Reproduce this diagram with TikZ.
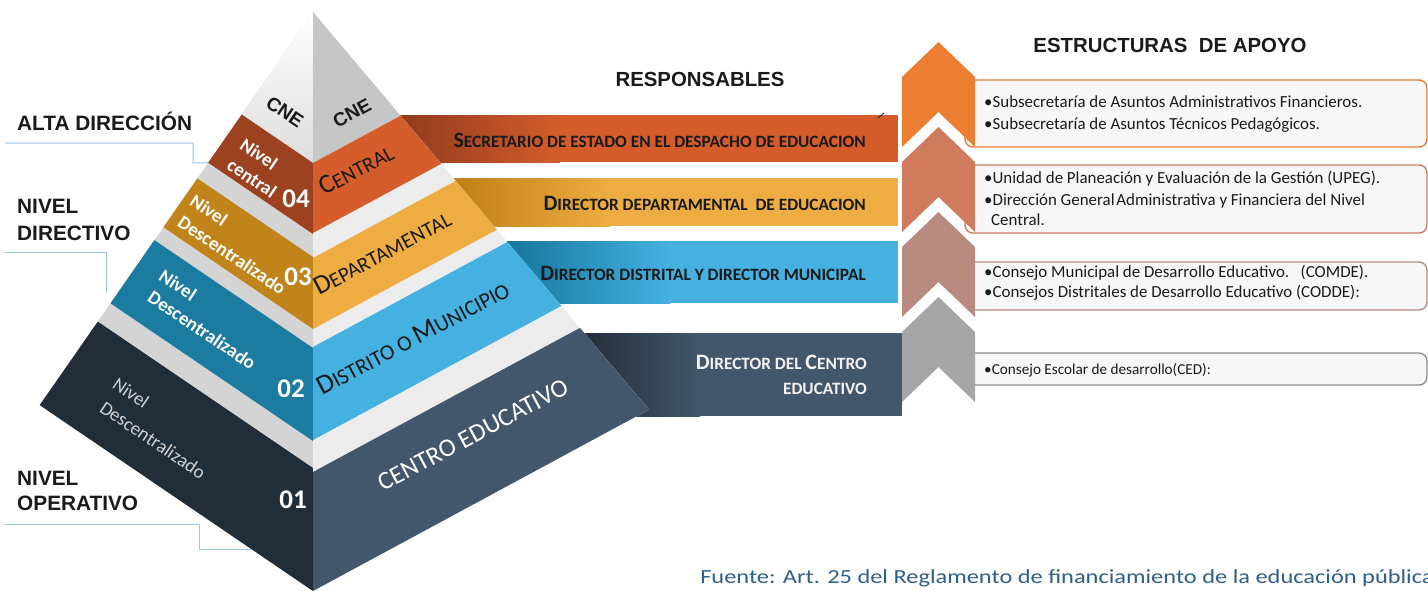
\documentclass[tikz,border=0pt]{standalone}
\usepackage{fontspec}
\setmainfont{Carlito}
\newfontfamily\ars{Liberation Sans}
\newcommand\Fs[1]{\fontsize{#1}{#1}\selectfont}
\definecolor{cBrownL}{HTML}{9C4220}
\definecolor{cOrangeR}{HTML}{D45D2B}
\definecolor{cBa}{HTML}{D45C2B}
\definecolor{cBad}{HTML}{8E3A1C}
\definecolor{cGoldL}{HTML}{C0841A}
\definecolor{cGoldR}{HTML}{EEAD42}
\definecolor{cBbd}{HTML}{BE7E14}
\definecolor{cTealL}{HTML}{1B7BA1}
\definecolor{cBlueR}{HTML}{44B1E1}
\definecolor{cBcd}{HTML}{16759B}
\definecolor{cDarkL}{HTML}{222D3A}
\definecolor{cSlateR}{HTML}{42576B}
\definecolor{cBdd}{HTML}{242E3A}
\definecolor{cCneL}{HTML}{F0F0F0}
\definecolor{cCneR}{HTML}{C6C6C6}
\definecolor{cGapL}{HTML}{D4D4D4}
\definecolor{cGapR}{HTML}{ECECEC}
\definecolor{cChA}{HTML}{ED7D31}
\definecolor{cChB}{HTML}{D07B5D}
\definecolor{cChC}{HTML}{B98A80}
\definecolor{cChD}{HTML}{A6A6A6}
\definecolor{cLine}{HTML}{9DC3E6}
\definecolor{cFoot}{HTML}{2E5E8C}
\definecolor{cTxt}{HTML}{1A1A1A}
\begin{document}
\begin{tikzpicture}[x=1pt,y=-1pt,
  hdr/.style={font=\ars\bfseries\Fs{20.8}, text=cTxt, inner sep=0pt, anchor=base west},
  title/.style={font=\ars\bfseries\Fs{20.4}, text=cTxt, inner sep=0pt, anchor=base},
  conn/.style={draw=cLine, line width=1pt},
  cne/.style={font=\ars\bfseries\Fs{19}, text=cTxt, inner sep=0pt},
  lefttxt/.style={font=\bfseries\Fs{19}, text=white, inner sep=0pt},
  lefttxtlight/.style={font=\Fs{19}, text=white!82!black, inner sep=0pt},
  num/.style={font=\bfseries\Fs{27}, text=white, inner sep=0pt},
  righttxt/.style={font=\Fs{21}, text=cTxt, inner sep=0pt, rotate=28, anchor=base west},
  bandtxt/.style={font=\bfseries\Fs{17.3}, text=cTxt, inner sep=0pt, anchor=base east},
  boxtxt/.style={font=\Fs{16.9}, text=cTxt, inner sep=0pt, anchor=base west},
  boxstyle/.style={draw=#1, line width=1.4pt, fill=white!97!black, rounded corners=8pt}
]
\useasboundingbox (0,0) rectangle (1428,590);

% ---------- bands (responsables) behind pyramid ----------
\fill[cBa] (380,115) rectangle (898,162);
\shade[left color=cBad, right color=cBa] (395,115) rectangle (560,162);
\fill[cGoldR] (440,178) rectangle (898,226);
\shade[left color=cBbd, right color=cGoldR] (450,178) rectangle (610,226);
\fill[cBlueR] (500,241) rectangle (898,303);
\shade[left color=cBcd, right color=cBlueR] (505,241) rectangle (670,303);
\fill[cSlateR] (575,333) rectangle (902,416);
\shade[left color=cBdd, right color=cSlateR] (585,333) rectangle (700,416);
\draw[cTxt, line width=0.8pt] (878,118) -- (884,113);

% ---------- pyramid coordinates ----------
\coordinate (A) at (313,12);
\coordinate (L1) at (241.7,114.5); \coordinate (L2) at (208.2,162.7);
\coordinate (L3) at (197.4,178.4); \coordinate (L4) at (163.4,227.2);
\coordinate (L5) at (154.4,240.1); \coordinate (L6) at (110.5,303.3);
\coordinate (L7) at (97.8,321.6);  \coordinate (L8) at (39.7,405.1);
\coordinate (C1) at (313,163); \coordinate (C2) at (313,234);
\coordinate (C3) at (313,257); \coordinate (C4) at (313,329);
\coordinate (C5) at (313,348); \coordinate (C6) at (313,441);
\coordinate (C7) at (313,468); \coordinate (C8) at (313,591);
\coordinate (D2) at (313,233); \coordinate (D3) at (313,258);
\coordinate (D5) at (313,347); \coordinate (D6) at (313,440);
\coordinate (D7) at (313,472);
\coordinate (R1) at (400.6,115.7); \coordinate (R2) at (441.2,163.8);
\coordinate (R3) at (455.7,180.9); \coordinate (R4) at (496.9,229.7);
\coordinate (R5) at (507.4,242.0); \coordinate (R6) at (561.3,305.9);
\coordinate (R7) at (579.9,327.9); \coordinate (R8) at (648.9,409.6);

% left face
\fill[cGapL] (A) -- (L8) -- (C8) -- cycle;
\shade[top color=white, bottom color=cCneL!92!black] (A) -- (L1) -- (C1) -- cycle;
\fill[cBrownL] (L1) -- (L2) -- (C2) -- (C1) -- cycle;
\fill[cGoldL] (L3) -- (L4) -- (C4) -- (C3) -- cycle;
\fill[cTealL] (L5) -- (L6) -- (C6) -- (C5) -- cycle;
\fill[cDarkL] (L7) -- (L8) -- (C8) -- (C7) -- cycle;
% right face
\fill[cGapR] (A) -- (C8) -- (R8) -- cycle;
\fill[cCneR] (A) -- (C1) -- (R1) -- cycle;
\fill[cOrangeR] (C1) -- (D2) -- (R2) -- (R1) -- cycle;
\fill[cGoldR] (D3) -- (C4) -- (R4) -- (R3) -- cycle;
\fill[cBlueR] (D5) -- (D6) -- (R6) -- (R5) -- cycle;
\fill[cSlateR] (D7) -- (C8) -- (R8) -- (R7) -- cycle;

% pyramid texts
\node[cne, rotate=-34] (cneL) at (285,112) {CNE};
\node[cne, rotate=28] (cneR) at (352,113) {CNE};
\node[lefttxt, rotate=-34] (n4a) at (259,154) {Nivel};
\node[lefttxt, rotate=-34] (n4b) at (252,178) {central};
\node[num] (n4) at (296,199) {04};
\node[lefttxt, rotate=-34] (n3a) at (209,210) {Nivel};
\node[lefttxt, rotate=-34] (n3b) at (232,255) {Descentralizado};
\node[num] (n3) at (298,277) {03};
\node[lefttxt, rotate=-34] (n2a) at (178,285) {Nivel};
\node[lefttxt, rotate=-34] (n2b) at (202,330) {Descentralizado};
\node[num] (n2) at (291,389) {02};
\node[lefttxtlight, rotate=-34] (n1a) at (131,393) {Nivel};
\node[lefttxtlight, rotate=-34] (n1b) at (153,440) {Descentralizado};
\node[num] (n1) at (293,500) {01};

\node[righttxt] (rc) at (324,196) {{\Fs{27}C}ENTRAL};
\node[righttxt] (rd) at (319,296) {{\Fs{27}D}EPARTAMENTAL};
\node[righttxt, font=\Fs{21.8}] (rm) at (322,396) {{\Fs{27.5}D}ISTRITO O {\Fs{27.5}M}UNICIPIO};
\node[righttxt, text=white, font=\Fs{25.5}] (rce) at (383,492) {CENTRO EDUCATIVO};

% ---------- band texts ----------
\node[bandtxt] (b1) at (866,147) {{\Fs{22}S}ECRETARIO DE ESTADO EN EL DESPACHO DE EDUCACION};
\node[bandtxt] (b2) at (866,210) {{\Fs{22}D}IRECTOR DEPARTAMENTAL\ \ DE EDUCACION};
\node[bandtxt] (b3) at (866,280) {{\Fs{22}D}IRECTOR DISTRITAL Y DIRECTOR MUNICIPAL};
\node[bandtxt, text=white!95!black] (b4a) at (867,369) {{\Fs{22}D}IRECTOR DEL {\Fs{22}C}ENTRO};
\node[bandtxt, text=white!95!black] (b4b) at (867,394) {EDUCATIVO};

% ---------- headers ----------
\node[title] (resp) at (700,86) {RESPONSABLES};
\node[title] (estr) at (1170,52) {ESTRUCTURAS\ \ DE APOYO};

% ---------- left labels ----------
\node[hdr] (alta) at (17,130) {ALTA DIRECCIÓN};
\node[hdr] (dir1) at (17,213) {NIVEL};
\node[hdr] (dir2) at (17,240) {DIRECTIVO};
\node[hdr] (op1) at (17,485) {NIVEL};
\node[hdr] (op2) at (17,510) {OPERATIVO};
\coordinate (a1) at (5,143); \coordinate (a2) at (193,143); \coordinate (a3) at (193,163);
\draw[conn] (a1) -- (a2) -- (a3) -- (L2);
\coordinate (d1) at (5,252); \coordinate (d2) at (106,252); \coordinate (d3) at (106,293);
\draw[conn] (d1) -- (d2) -- (d3);
\coordinate (o1) at (5,524); \coordinate (o2) at (199,524); \coordinate (o3) at (199,549);
\coordinate (o4) at (251.5,549);
\draw[conn] (o1) -- (o2) -- (o3) -- (o4);

% ---------- support boxes ----------
\draw[boxstyle=cChA] (965,80) rectangle (1427,147);
\draw[boxstyle=cChB] (965,165) rectangle (1427,233);
\draw[boxstyle=cChC] (965,262) rectangle (1427,310);
\draw[boxstyle=cChD!85!black] (965,353) rectangle (1427,385);

% chevrons
\foreach \c/\dy in {cChA/0, cChB/85, cChC/170, cChD/255}{
  \fill[\c] (902,77+\dy) -- (938.5,42+\dy) -- (975,77+\dy) -- (975,147+\dy) -- (938.5,112+\dy) -- (902,147+\dy) -- cycle;
}

\node[boxtxt] (s1a) at (984,107) {•Subsecretaría de Asuntos Administrativos Financieros.};
\node[boxtxt] (s1b) at (984,129) {•Subsecretaría de Asuntos Técnicos Pedagógicos.};
\node[boxtxt] (s2a) at (984,183) {•Unidad de Planeación y Evaluación de la Gestión (UPEG).};
\node[boxtxt] (s2b) at (984,205) {•Dirección General\kern-2pt\ Administrativa y Financiera del Nivel};
\node[boxtxt] (s2c) at (991,225) {Central.};
\node[boxtxt] (s3a) at (984,277) {•Consejo Municipal de Desarrollo Educativo.\ \ \ (COMDE).};
\node[boxtxt] (s3b) at (984,297) {•Consejos Distritales de Desarrollo Educativo (CODDE):};
\node[boxtxt, font=\Fs{15.2}] (s4a) at (984,374) {•Consejo Escolar de desarrollo(CED):};

% footer
\node[font=\Fs{20}, text=cFoot, inner sep=0pt, anchor=base west, xscale=1.22] (foot) at (700,583) {Fuente: Art. 25 del Reglamento de financiamiento de la educación pública};
\end{tikzpicture}
\end{document}
